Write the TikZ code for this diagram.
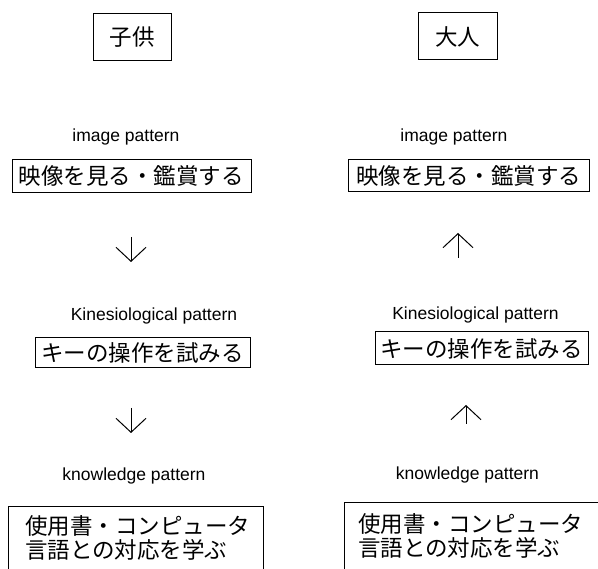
\documentclass[tikz,border=0pt]{standalone}
\usepackage{fontspec}
\setmainfont{Liberation Sans}
\newfontfamily\jpfont{Noto Sans CJK JP}
\usetikzlibrary{arrows.meta}
\begin{document}
\begin{tikzpicture}[x=1pt,y=-1pt,
  lbl/.style={font=\fontsize{17.5}{20}\selectfont, inner sep=0pt},
  jbox/.style={draw, line width=1pt, inner sep=0pt, font=\jpfont\fontsize{22.5}{26}\selectfont},
  jtext/.style={inner sep=0pt, align=left, font=\jpfont\fontsize{22.5}{24}\selectfont},
  flow/.style={line width=1pt, -{Straight Barb[length=14pt,width=30pt,line width=1pt]}}]
\useasboundingbox (0,0) rectangle (598,569);
\clip (0,0) rectangle (598,569);
% headers
\node[jbox, minimum width=78pt, minimum height=47pt] (child) at (132,37.5) {子供};
\node[jbox, minimum width=79pt, minimum height=47pt] (adult) at (457.5,36.5) {大人};
% image pattern
\node[lbl] (imgL) at (126,137) {image pattern};
\node[lbl] (imgR) at (454,137) {image pattern};
\node[jbox, minimum width=239pt, minimum height=33pt] (boxImgL) at (131.5,176.5) {映像を見る・鑑賞する};
\node[jbox, minimum width=241pt, minimum height=32pt] (boxImgR) at (468.5,176) {映像を見る・鑑賞する};
% arrows 1
\coordinate (a1s) at (131,237); \coordinate (a1e) at (131,262);
\draw[flow] (a1s) -- (a1e);
\coordinate (b1s) at (458,258); \coordinate (b1e) at (458,233);
\draw[flow] (b1s) -- (b1e);
% kinesiological
\node[lbl] (kinL) at (154,316) {Kinesiological pattern};
\node[lbl] (kinR) at (475.5,315) {Kinesiological pattern};
\node[jbox, minimum width=215pt, minimum height=30pt] (boxKinL) at (142.5,353) {キーの操作を試みる};
\node[jbox, minimum width=213pt, minimum height=33pt] (boxKinR) at (481.5,348.5) {キーの操作を試みる};
% arrows 2
\coordinate (a2s) at (131,408); \coordinate (a2e) at (131,433);
\draw[flow] (a2s) -- (a2e);
\coordinate (b2s) at (466,424); \coordinate (b2e) at (466,405);
\draw[flow] (b2s) -- (b2e);
% knowledge
\node[lbl] (knoL) at (134,476) {knowledge pattern};
\node[lbl] (knoR) at (467.5,475) {knowledge pattern};
\draw[line width=1pt] (8,580) -- (8,507) -- (263,507) -- (263,580);
\draw[line width=1pt] (344,580) -- (344,503) -- (610,503);
\node[jtext, anchor=north west] (txtL) at (25,515) {使用書・コンピュータ\\言語との対応を学ぶ};
\node[jtext, anchor=north west] (txtR) at (358,513) {使用書・コンピュータ\\言語との対応を学ぶ};
\end{tikzpicture}
\end{document}
